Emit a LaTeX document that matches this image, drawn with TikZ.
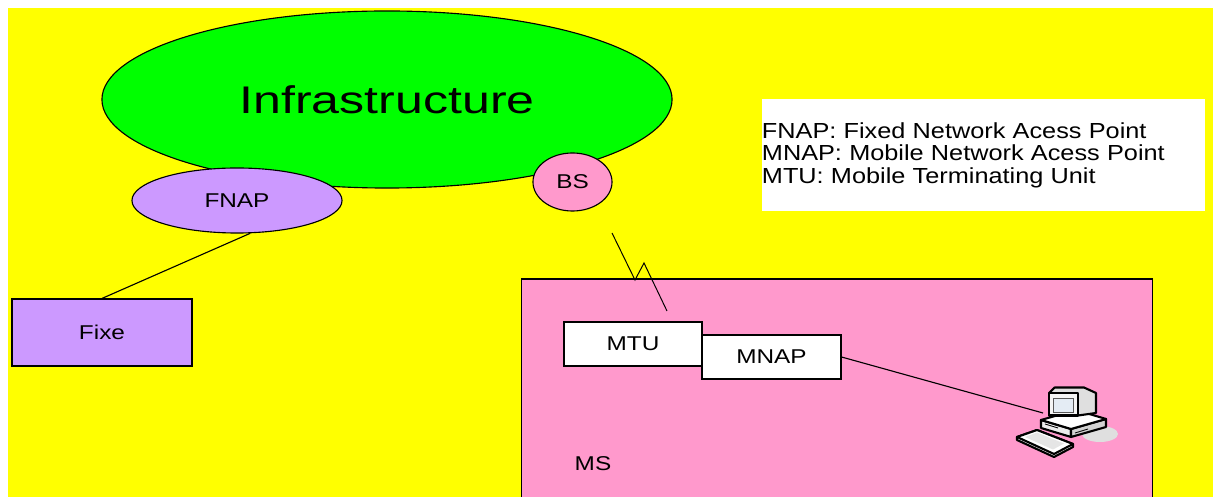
\documentclass[tikz,border=0pt]{standalone}
\usepackage{xcolor}
\usepackage{tikz}
\usepackage{fontspec}
\setmainfont{Liberation Sans}
\newfontfamily\labelfont[FakeStretch=1.22]{Liberation Sans}
\newfontfamily\titlefont[FakeStretch=1.3]{Liberation Sans}
\newfontfamily\legendfont[FakeStretch=1.16]{Liberation Sans}
\usetikzlibrary{shapes,arrows,positioning,calc}
\definecolor{bgyellow}{HTML}{FFFF00}
\definecolor{infgreen}{HTML}{00FF00}
\definecolor{apviolet}{HTML}{CC99FF}
\definecolor{mspink}{HTML}{FF99CC}
\definecolor{screenblue}{HTML}{E4ECF4}

\begin{document}
\begin{tikzpicture}[x=0.025cm, y=-0.025cm,
  box/.style={draw, rectangle, line width=0.8pt, inner sep=0pt, font=\labelfont\fontsize{14.2}{17}\selectfont},
  blob/.style={draw, ellipse, line width=0.8pt, inner sep=0pt, font=\labelfont\fontsize{14.2}{17}\selectfont},
  link/.style={line width=0.8pt},
  pcpart/.style={draw=black, line width=1.5pt, line join=round}]

  % Page and background
  \clip (0,0) rectangle (1213,497);
  \fill[white] (0,0) rectangle (1213,497);
  \fill[bgyellow] (8,8) rectangle (1213,497);

  % Mobile station box
  \node[box, fill=mspink, minimum width=15.75cm, minimum height=6.025cm] (ms) at (837,399.5) {};
  \node[font=\labelfont\fontsize{14.2}{17}\selectfont, inner sep=0pt] (mslabel) at (593,464) {MS};

  % Infrastructure cloud
  \node[blob, fill=infgreen, minimum width=14.25cm, minimum height=4.425cm,
        font=\titlefont\fontsize{27.4}{32}\selectfont] (infra) at (387,99.5) {Infrastructure};

  % Access points
  \node[blob, fill=apviolet, minimum width=5.25cm, minimum height=1.625cm] (fnap) at (237,200.5) {FNAP};
  \node[blob, fill=mspink, minimum width=1.975cm, minimum height=1.45cm] (bs) at (572.5,182) {BS};

  % Fixed terminal
  \node[box, fill=apviolet, minimum width=4.5cm, minimum height=1.675cm] (fixe) at (102,332.5) {Fixe};
  \draw[link] (fnap.-68) -- (fixe.north);

  % Legend
  \node[fill=white, inner sep=0pt, text width=11.075cm, minimum height=2.8cm, align=left,
        font=\legendfont\fontsize{15.5}{16}\selectfont] (legend) at (983.5,155) {
    FNAP: Fixed Network Acess Point\\
    MNAP: Mobile Network Acess Point\\
    MTU: Mobile Terminating Unit};

  % Units inside the mobile station
  \node[box, fill=white, minimum width=3.45cm, minimum height=1.1cm] (mtu) at (633,344) {MTU};
  \node[box, fill=white, minimum width=3.475cm, minimum height=1.1cm] (mnap) at (771.5,357) {MNAP};

  % Radio link
  \coordinate (radiotop) at (612,233);
  \coordinate (radiobot) at (667,311);
  \draw[link, line width=0.7pt] (radiotop) -- (635,280) -- (644,263) -- (radiobot);

  % Terminal (computer)
  \coordinate (pc) at (1043,413);
  \draw[link] (mnap.east) -- (pc);
  \fill[gray!25] (1100,434) ellipse [x radius=0.45cm, y radius=0.2cm];
  % keyboard
  \draw[pcpart, fill=gray!10] (1017,437) -- (1037,430) -- (1073,444) -- (1073,447) -- (1054,457) -- (1017,440) -- cycle;
  \draw[pcpart, fill=white] (1017,437) -- (1037,430) -- (1073,444) -- (1054,454) -- cycle;
  \fill[gray!20] (1025,437) -- (1037,432.5) -- (1064,443.5) -- (1053,449.5) -- cycle;
  % system unit
  \draw[pcpart, fill=gray!15] (1041,420) -- (1071,429) -- (1071,437) -- (1041,428) -- cycle;
  \draw[pcpart, fill=gray!35] (1071,429) -- (1106,419) -- (1106,427) -- (1071,437) -- cycle;
  \draw[pcpart, fill=white] (1041,420) -- (1076,410) -- (1106,419) -- (1071,429) -- cycle;
  \draw[line width=0.6pt] (1045,424) -- (1058,428);
  \draw[line width=0.6pt] (1075,433) -- (1088,429);
  % monitor
  \draw[pcpart, fill=gray!25] (1049.3,392.7) -- (1054.7,387.5) -- (1084,387.5) -- (1096,393)
        -- (1096,413) -- (1078,415.5) -- cycle;
  \draw[pcpart, fill=gray!8] (1049.3,392.7) rectangle (1078,415.5);
  \draw[line width=0.6pt, draw=gray!70!black, fill=screenblue] (1053.7,398) rectangle (1073.7,412.5);
\end{tikzpicture}
\end{document}
